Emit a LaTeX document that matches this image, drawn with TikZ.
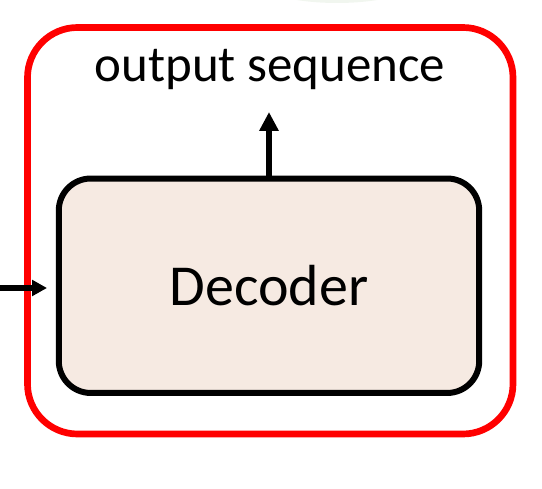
\documentclass[tikz,border=0pt]{standalone}
\usepackage{fontspec}
\setmainfont{Carlito}
\usetikzlibrary{arrows.meta, positioning}
\definecolor{framered}{HTML}{FF0000}
\definecolor{decfill}{HTML}{F6EAE2}
\definecolor{paleblob}{HTML}{F1F6EF}
\tikzset{
	decbox/.style={draw=black, line width=3.4pt, fill=decfill, rounded corners=0.64cm,
		minimum width=8.41cm, minimum height=4.29cm, font=\fontsize{33}{38}\selectfont}
}
\tikzset{
	thickarrow/.style={line width=3.6pt}
}

\begin{document}
\begin{tikzpicture}[x=0.02cm, y=-0.02cm]
      \useasboundingbox (0,0) rectangle (542,489);

      % faint shape peeking in at the top edge
      \fill[paleblob] (337,-22) ellipse [x radius=1.7cm, y radius=0.5cm];

      % red frame round the decoder
      \draw[framered, line width=3.8pt, rounded corners=1cm] (27.5,27.5) rectangle (513,434);

      % decoder block
      \node[decbox] (dec) at (269,285.75) {Decoder};

      % output label
      \node[font=\fontsize{29}{34}\selectfont] (out) at (270,70) {output sequence};

      % arrows
      \coordinate (outtip) at (269,112);
      \draw[thickarrow, -{Triangle[length=0.38cm, width=0.37cm]}] (dec.north) -- (outtip);
      \coordinate (instart) at (0,288);
      \coordinate (intip) at (47,288);
      \draw[thickarrow, -{Triangle[length=0.3cm, width=0.31cm]}] (instart) -- (intip);
    \end{tikzpicture}
\end{document}
